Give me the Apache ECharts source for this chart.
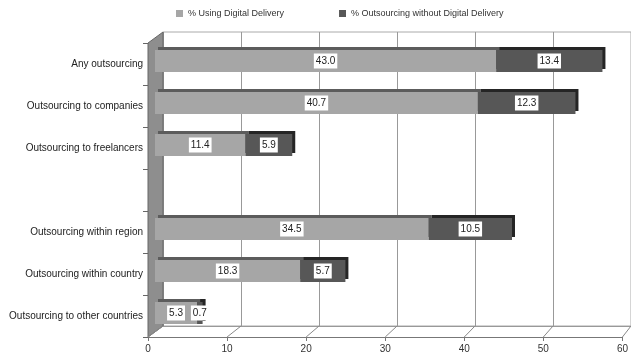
<!DOCTYPE html>
<html>
<head>
<meta charset="utf-8">
<script src="https://cdn.jsdelivr.net/npm/echarts@6/dist/echarts.min.js"></script>
<style>
html,body{margin:0;padding:0;background:#fff;}
#chart{width:631px;height:360px;}
</style>
</head>
<body>
<div id="chart"></div>
<script>
var categories = ['Any outsourcing', 'Outsourcing to companies', 'Outsourcing to freelancers', '',
  'Outsourcing within region', 'Outsourcing within country', 'Outsourcing to other countries'];
var digital = [43.0, 40.7, 11.4, null, 34.5, 18.3, 5.3];
var noDigital = [13.4, 12.3, 5.9, null, 10.5, 5.7, 0.7];
var seriesNames = ['% Using Digital Delivery', '% Outsourcing without Digital Delivery'];
var xTicks = [0, 10, 20, 30, 40, 50, 60];

var font = 'Liberation Sans, Arial, sans-serif';
var myChart = echarts.init(document.getElementById('chart'));

function barLabel(){
  return {
    show: true,
    position: 'inside',
    color: '#222',
    fontSize: 10,
    fontFamily: font,
    backgroundColor: '#fff',
    padding: [3, 2, 2, 2],
    formatter: function(p){ return p.value.toFixed(1); }
  };
}

var option = {
  animation: false,
  legend: {
    top: 9,
    left: 176,
    padding: 0,
    itemGap: 55,
    itemWidth: 7,
    itemHeight: 7,
    icon: 'rect',
    textStyle: {fontSize: 9, fontFamily: font, color: '#333'},
    data: seriesNames
  },
  grid: [
    // front frame with the axis labels
    {left: 148, right: 4, top: 43, bottom: 23},
    // back wall with the grid lines
    {left: 163, right: -13, top: 32, bottom: 34, show: true, borderColor: '#aaa', borderWidth: 1, backgroundColor: '#fff'},
    // bars
    {left: 155, right: 0, top: 40, bottom: 26}
  ],
  xAxis: [
    {
      gridIndex: 0, type: 'value', min: 0, max: 60, interval: 10,
      axisLine: {show: true, lineStyle: {color: '#777'}},
      axisTick: {show: true, length: 4, lineStyle: {color: '#777'}},
      axisLabel: {fontSize: 10, fontFamily: font, color: '#333', margin: 7},
      splitLine: {show: false}
    },
    {
      gridIndex: 1, type: 'value', min: 0, max: 60, interval: 10,
      axisLine: {show: true, lineStyle: {color: '#999'}},
      axisTick: {show: false},
      axisLabel: {show: false},
      splitLine: {show: true, lineStyle: {color: '#999'}}
    },
    {
      gridIndex: 2, type: 'value', min: 0, max: 60, interval: 10, show: false
    }
  ],
  yAxis: [
    {
      gridIndex: 0, type: 'category', inverse: true, data: categories,
      axisLine: {show: false},
      axisTick: {show: true, length: 5, lineStyle: {color: '#666'}},
      axisLabel: {fontSize: 10, fontFamily: font, color: '#222', margin: 5}
    },
    {gridIndex: 1, type: 'category', inverse: true, data: categories, show: false},
    {gridIndex: 2, type: 'category', inverse: true, data: categories, show: false}
  ],
  series: [
    {
      name: seriesNames[0], type: 'bar', stack: 'a', xAxisIndex: 2, yAxisIndex: 2,
      barWidth: 22, z: 3,
      data: digital,
      itemStyle: {color: '#a6a6a6', shadowColor: '#5c5c5c', shadowOffsetX: 3, shadowOffsetY: -3, shadowBlur: 0},
      label: barLabel()
    },
    {
      name: seriesNames[1], type: 'bar', stack: 'a', xAxisIndex: 2, yAxisIndex: 2,
      barWidth: 22, z: 3,
      data: noDigital,
      itemStyle: {color: '#575757', shadowColor: '#252525', shadowOffsetX: 3, shadowOffsetY: -3, shadowBlur: 0},
      label: barLabel()
    }
  ]
};
myChart.setOption(option);

// side wall and floor connectors of the pseudo 3D frame
var g = [];
var f0 = myChart.convertToPixel({xAxisIndex: 0}, 0);
var b0 = myChart.convertToPixel({xAxisIndex: 1}, 0);
g.push({
  type: 'polygon', z: 1,
  shape: {points: [[f0, 43], [b0, 32], [b0, 326], [f0, 337]]},
  style: {fill: '#8e8e8e', stroke: '#666', lineWidth: 1}
});
xTicks.forEach(function(v){
  var fx = myChart.convertToPixel({xAxisIndex: 0}, v);
  var bx = myChart.convertToPixel({xAxisIndex: 1}, v);
  g.push({type: 'line', z: 1, shape: {x1: fx, y1: 337, x2: bx, y2: 326}, style: {stroke: '#888', lineWidth: 1}});
});
myChart.setOption({graphic: g});
</script>
</body>
</html>
